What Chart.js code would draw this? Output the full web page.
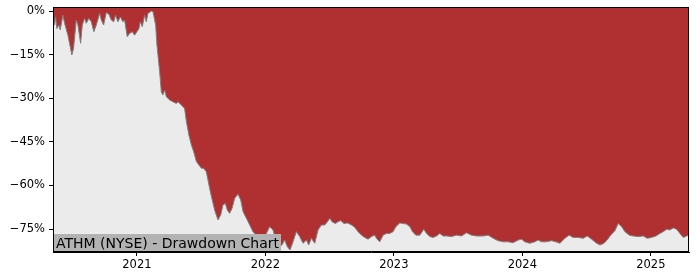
<!DOCTYPE html>
<html>
<head>
<meta charset="utf-8">
<script src="https://cdn.jsdelivr.net/npm/chart.js@4.4.1/dist/chart.umd.min.js"></script>
<style>
  html, body { margin: 0; padding: 0; background: #fff; }
  #wrap { width: 700px; height: 280px; position: relative; }
</style>
</head>
<body>
<div id="wrap"><canvas id="ddChart" width="700" height="280"></canvas></div>
<script>
// dates as decimal years, drawdown in percent
const dates = [
  2020.347, 2020.351, 2020.359, 2020.367, 2020.377, 2020.393, 2020.403, 2020.424, 2020.437, 2020.463,
  2020.494, 2020.507, 2020.528, 2020.541, 2020.562, 2020.575, 2020.593, 2020.606, 2020.626, 2020.645,
  2020.665, 2020.684, 2020.710, 2020.723, 2020.741, 2020.762, 2020.782, 2020.801, 2020.819, 2020.834,
  2020.852, 2020.871, 2020.891, 2020.904, 2020.925, 2020.943, 2020.964, 2020.982, 2021.000, 2021.016,
  2021.026, 2021.042, 2021.060, 2021.073, 2021.086, 2021.112, 2021.125, 2021.146, 2021.156, 2021.177,
  2021.190, 2021.202, 2021.216, 2021.229, 2021.255, 2021.280, 2021.307, 2021.319, 2021.346, 2021.371,
  2021.385, 2021.405, 2021.424, 2021.442, 2021.463, 2021.483, 2021.502, 2021.519, 2021.540, 2021.553,
  2021.574, 2021.605, 2021.631, 2021.652, 2021.670, 2021.688, 2021.704, 2021.722, 2021.740, 2021.761,
  2021.787, 2021.808, 2021.826, 2021.852, 2021.878, 2021.903, 2021.930, 2021.956, 2021.981, 2022.008,
  2022.033, 2022.059, 2022.078, 2022.104, 2022.129, 2022.150, 2022.171, 2022.192, 2022.215, 2022.241,
  2022.267, 2022.293, 2022.319, 2022.337, 2022.358, 2022.384, 2022.410, 2022.436, 2022.462, 2022.483,
  2022.501, 2022.519, 2022.545, 2022.565, 2022.586, 2022.612, 2022.639, 2022.670, 2022.695, 2022.721,
  2022.748, 2022.773, 2022.799, 2022.826, 2022.851, 2022.864, 2022.890, 2022.916, 2022.942, 2022.968,
  2022.994, 2023.015, 2023.046, 2023.072, 2023.098, 2023.124, 2023.145, 2023.171, 2023.202, 2023.233,
  2023.254, 2023.280, 2023.305, 2023.332, 2023.357, 2023.383, 2023.410, 2023.449, 2023.487, 2023.526,
  2023.565, 2023.604, 2023.643, 2023.695, 2023.734, 2023.773, 2023.811, 2023.850, 2023.889, 2023.928,
  2023.967, 2023.994, 2024.019, 2024.058, 2024.097, 2024.123, 2024.149, 2024.188, 2024.227, 2024.261,
  2024.292, 2024.331, 2024.364, 2024.396, 2024.434, 2024.473, 2024.505, 2024.539, 2024.572, 2024.604,
  2024.635, 2024.660, 2024.687, 2024.720, 2024.746, 2024.773, 2024.798, 2024.832, 2024.863, 2024.902,
  2024.941, 2024.972, 2025.006, 2025.040, 2025.071, 2025.097, 2025.123, 2025.149, 2025.174, 2025.201,
  2025.226, 2025.252, 2025.279, 2025.297
];
const drawdown = [
  -1.5, -2.5, -4.8, -2.0, -6.0, -4.8, -6.5, -1.4, -4.2, -8.3,
  -15.1, -12.8, -3.1, -4.8, -11.1, -4.8, -2.5, -4.2, -2.5, -3.7,
  -7.1, -4.8, -0.8, -3.1, -4.8, -0.5, -1.1, -3.1, -3.7, -1.4,
  -3.7, -2.0, -3.7, -3.1, -8.8, -7.7, -7.1, -8.3, -7.1, -6.0,
  -3.7, -5.4, -1.4, -3.7, -0.8, 0.0, -0.2, -4.8, -11.7, -20.9,
  -27.8, -28.9, -27.2, -29.5, -30.6, -31.2, -31.8, -31.2, -32.3, -33.5,
  -38.0, -42.7, -46.1, -48.4, -51.8, -53.0, -54.1, -54.1, -55.3, -58.1,
  -62.7, -68.5, -71.9, -70.2, -66.7, -66.2, -68.5, -69.6, -67.9, -64.4,
  -63.0, -65.0, -69.0, -71.3, -73.6, -75.9, -77.1, -78.2, -79.4, -76.5,
  -74.2, -75.3, -78.2, -81.1, -80.5, -78.8, -81.1, -82.2, -79.4, -75.9,
  -77.6, -79.9, -78.8, -80.5, -78.2, -79.9, -75.3, -73.6, -73.6, -72.5,
  -71.3, -72.5, -73.1, -72.5, -72.1, -73.1, -72.9, -73.6, -74.4, -75.9,
  -77.1, -77.9, -78.5, -77.6, -77.1, -78.2, -79.4, -77.1, -76.5, -76.5,
  -75.9, -74.2, -72.9, -73.1, -73.3, -74.2, -75.9, -77.1, -77.1, -75.1,
  -76.5, -77.6, -77.9, -77.4, -76.5, -77.4, -77.4, -77.6, -77.1, -77.4,
  -76.3, -77.1, -77.4, -77.4, -77.1, -78.2, -79.0, -79.4, -79.4, -79.7,
  -78.8, -78.5, -79.4, -79.9, -79.4, -78.8, -79.4, -79.4, -79.0, -79.4,
  -79.9, -78.2, -77.1, -77.9, -77.9, -78.2, -77.4, -78.5, -79.7, -80.5,
  -79.9, -78.8, -77.1, -75.6, -73.1, -74.2, -75.9, -77.1, -77.4, -77.6,
  -77.4, -78.2, -77.9, -77.4, -76.5, -75.9, -75.1, -75.3, -74.6, -75.1,
  -76.5, -77.9, -77.4, -77.1
];
const yearTicks = [2021, 2022, 2023, 2024, 2025];
const pctTicks = [-75, -60, -45, -30, -15, 0];
const chartTitle = 'ATHM (NYSE) - Drawdown Chart';

const points = dates.map((d, i) => ({ x: d, y: drawdown[i] }));
const tickFont = { family: 'DejaVu Sans', size: 11.5 };

// plot background and frame, matplotlib style
const frame = {
    id: 'frame',
    beforeDatasetsDraw(chart) {
        const { ctx, chartArea: a } = chart;
        ctx.save();
        ctx.fillStyle = '#ebebeb';
        ctx.fillRect(a.left, a.top, a.right - a.left, a.bottom - a.top);
        ctx.restore();
    },
    afterDatasetsDraw(chart) {
        const { ctx, chartArea: a } = chart;
        ctx.save();
        ctx.font = '14px "DejaVu Sans"';
        const w = ctx.measureText(chartTitle).width;
        ctx.fillStyle = '#b3b3b3';
        ctx.fillRect(a.left, 234, w + 5, a.bottom - 234);
        ctx.fillStyle = '#000';
        ctx.textBaseline = 'alphabetic';
        ctx.fillText(chartTitle, a.left + 3, 248);
        ctx.strokeStyle = '#000';
        ctx.lineWidth = 1;
        ctx.strokeRect(a.left + 0.5, a.top + 0.5, a.right - a.left - 1, a.bottom - a.top - 1);
        ctx.restore();
    }
};

new Chart(document.getElementById('ddChart').getContext('2d'), {
    type: 'line',
    data: {
        datasets: [
            {
                data: points,
                borderColor: '#808080',
                borderWidth: 1,
                backgroundColor: '#b03031',
                fill: 'end',
                pointRadius: 0,
                tension: 0
            }
        ]
    },
    options: {
        responsive: false,
        animation: false,
        layout: { padding: { top: 7, right: 11, left: 0, bottom: 0 } },
        plugins: { legend: { display: false }, tooltip: { enabled: false } },
        scales: {
            x: {
                type: 'linear',
                min: 2020.347,
                max: 2025.297,
                afterBuildTicks: (s) => { s.ticks = yearTicks.map(v => ({ value: v })); },
                afterFit: (s) => { s.height = 28; s.paddingLeft = 0; s.paddingRight = 0; },
                ticks: { color: '#000', font: tickFont, padding: 2, maxRotation: 0,
                         callback: (v) => String(v) },
                grid: { display: true, drawOnChartArea: false, drawTicks: true, tickLength: 4, color: '#000' },
                border: { display: true, color: '#000' }
            },
            y: {
                min: -82.9,
                max: 1.4,
                afterBuildTicks: (s) => { s.ticks = pctTicks.map(v => ({ value: v })); },
                afterFit: (s) => { s.width = 53; s.paddingTop = 0; s.paddingBottom = 0; },
                ticks: { color: '#000', font: tickFont, padding: 4,
                         callback: (v) => (v < 0 ? '\u2212' + Math.abs(v) : v) + '%' },
                grid: { display: true, drawOnChartArea: false, drawTicks: true, tickLength: 4, color: '#000' },
                border: { display: true, color: '#000' }
            }
        }
    },
    plugins: [frame]
});
</script>
</body>
</html>
